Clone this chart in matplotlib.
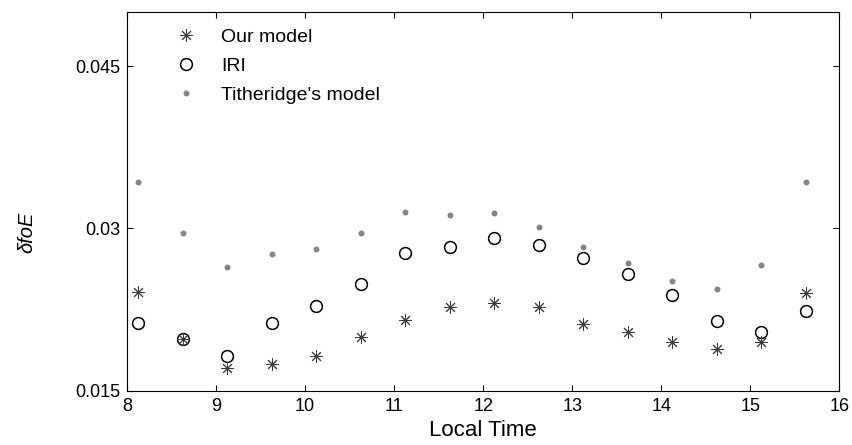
import numpy as np
import matplotlib
matplotlib.use("Agg")
import matplotlib.pyplot as plt

plt.rcParams['font.family'] = ['Liberation Sans', 'DejaVu Sans']

# local time of each sample
local_time = [8.125, 8.625, 9.125, 9.625, 10.125, 10.625, 11.125, 11.625,
              12.125, 12.625, 13.125, 13.625, 14.125, 14.625, 15.125, 15.625]

our_model = [0.0241, 0.0198, 0.0171, 0.0175, 0.0182, 0.0200, 0.0215, 0.0227,
             0.0231, 0.0227, 0.0212, 0.0204, 0.0195, 0.0189, 0.0195, 0.0240]
iri = [0.0213, 0.0198, 0.0182, 0.0213, 0.0228, 0.0249, 0.0277, 0.0283,
       0.0291, 0.0285, 0.0273, 0.0258, 0.0238, 0.0214, 0.0204, 0.0224]
titheridge = [0.0343, 0.0296, 0.0264, 0.0276, 0.0281, 0.0296, 0.0315, 0.0312,
              0.0314, 0.0301, 0.0283, 0.0268, 0.0251, 0.0244, 0.0266, 0.0343]

x_ticks = [8, 9, 10, 11, 12, 13, 14, 15, 16]
y_ticks = [0.015, 0.03, 0.045]
y_tick_labels = ['0.015', '0.03', '0.045']

fig = plt.figure(figsize=(8.53, 4.45), dpi=100)
ax = fig.add_axes([0.149, 0.122, 0.835, 0.851])

# circles first so the asterisks sit on top of them
h_iri, = ax.plot(local_time, iri, linestyle='none', marker='o', markersize=8.5,
                 markerfacecolor='white', markeredgecolor='black',
                 markeredgewidth=1.1, label='IRI', zorder=2)
h_our, = ax.plot(local_time, our_model, linestyle='none', marker=(8, 2, 0),
                 markersize=9, markeredgewidth=0.7, color='#3a3a3a',
                 label='Our model', zorder=3)
h_tit, = ax.plot(local_time, titheridge, linestyle='none', marker='o',
                 markersize=4.3, color='#858585', markeredgewidth=0,
                 label="Titheridge's model", zorder=2)

ax.set_xlim(8, 16)
ax.set_ylim(0.015, 0.05)
ax.set_xticks(x_ticks)
ax.set_yticks(y_ticks)
ax.set_yticklabels(y_tick_labels)
ax.tick_params(direction='in', top=True, right=True, length=4, width=0.8,
               labelsize=13, pad=5)
for s in ax.spines.values():
    s.set_linewidth(0.8)

ax.set_xlabel('Local Time', fontsize=16, labelpad=4)
ax.set_ylabel('δfoE', fontsize=14.5, style='italic')
ax.yaxis.set_label_coords(-0.128, 0.417)

ax.legend(handles=[h_our, h_iri, h_tit], loc='upper left',
          bbox_to_anchor=(0.045, 0.977), frameon=False, fontsize=14,
          handletextpad=0.8, labelspacing=0.59, borderaxespad=0)

fig.savefig('out.png', dpi=100)
